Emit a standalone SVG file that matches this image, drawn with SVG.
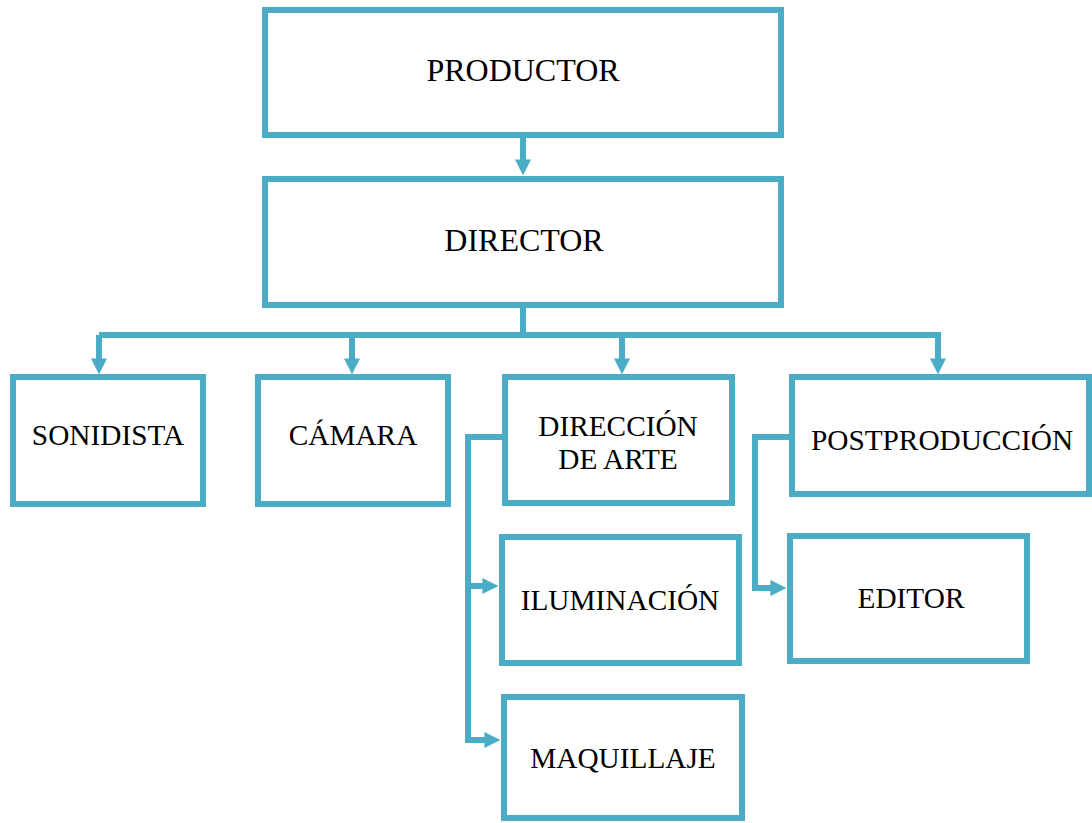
<svg xmlns="http://www.w3.org/2000/svg" width="1092" height="823" viewBox="0 0 1092 823">
  <style>
    .box { fill: #ffffff; stroke: #4BACC6; stroke-width: 6; }
    .lbl { font-family: 'Liberation Serif', 'Times New Roman', serif; font-size: 29.3px; fill: #000000; text-anchor: middle; }
    .big { font-size: 32px; }
    .wire { fill: none; stroke: #4BACC6; stroke-width: 6; stroke-linejoin: miter; }
    .wire-arrow { fill: none; stroke: #4BACC6; stroke-width: 6; marker-end: url(#head); }
  </style>
  <defs>
    <marker id="head" viewBox="0 0 10 10" refX="1" refY="5" markerWidth="16" markerHeight="20" markerUnits="userSpaceOnUse" orient="auto">
      <path d="M0,0 L10,5 L0,10 z" fill="#4BACC6"/>
    </marker>
  </defs>
  <rect width="1092" height="823" fill="#ffffff"/>

  <!-- connectors -->
  <g id="connectors">
    <path class="wire-arrow" d="M523 138 V161"/>
    <path class="wire" d="M523 308 V335"/>
    <path class="wire" d="M99 335 H941"/>
    <path class="wire-arrow" d="M99 335 V360"/>
    <path class="wire-arrow" d="M352 335 V360"/>
    <path class="wire-arrow" d="M622 335 V360"/>
    <path class="wire-arrow" d="M938 335 V360"/>
    <!-- art direction branch -->
    <path class="wire-arrow" d="M505 437 H468 V740 H486"/>
    <path class="wire-arrow" d="M468 586 H484"/>
    <!-- post-production branch -->
    <path class="wire-arrow" d="M792 437 H755 V588 H772"/>
  </g>

  <g id="productor">
    <rect class="box" x="265" y="10" width="516" height="125"/>
    <text class="lbl big" x="523" y="81">PRODUCTOR</text>
  </g>
  <g id="director">
    <rect class="box" x="265" y="179" width="516" height="126"/>
    <text class="lbl big" x="524" y="251">DIRECTOR</text>
  </g>
  <g id="sonidista">
    <rect class="box" x="13" y="377" width="190" height="127"/>
    <text class="lbl" x="108" y="445">SONIDISTA</text>
  </g>
  <g id="camara">
    <rect class="box" x="258" y="377" width="190" height="127"/>
    <text class="lbl" x="353" y="445">CÁMARA</text>
  </g>
  <g id="direccion-arte">
    <rect class="box" x="505" y="377" width="227" height="126"/>
    <text class="lbl" x="618" y="436">DIRECCIÓN</text>
    <text class="lbl" x="618" y="469">DE ARTE</text>
  </g>
  <g id="postproduccion">
    <rect class="box" x="792" y="377" width="297" height="117"/>
    <text class="lbl" x="942" y="450">POSTPRODUCCIÓN</text>
  </g>
  <g id="iluminacion">
    <rect class="box" x="502" y="537" width="237" height="126"/>
    <text class="lbl" x="620" y="610">ILUMINACIÓN</text>
  </g>
  <g id="editor">
    <rect class="box" x="790" y="536" width="237" height="125"/>
    <text class="lbl" x="911" y="608">EDITOR</text>
  </g>
  <g id="maquillaje">
    <rect class="box" x="504" y="697" width="238" height="121"/>
    <text class="lbl" x="623" y="768">MAQUILLAJE</text>
  </g>
</svg>
